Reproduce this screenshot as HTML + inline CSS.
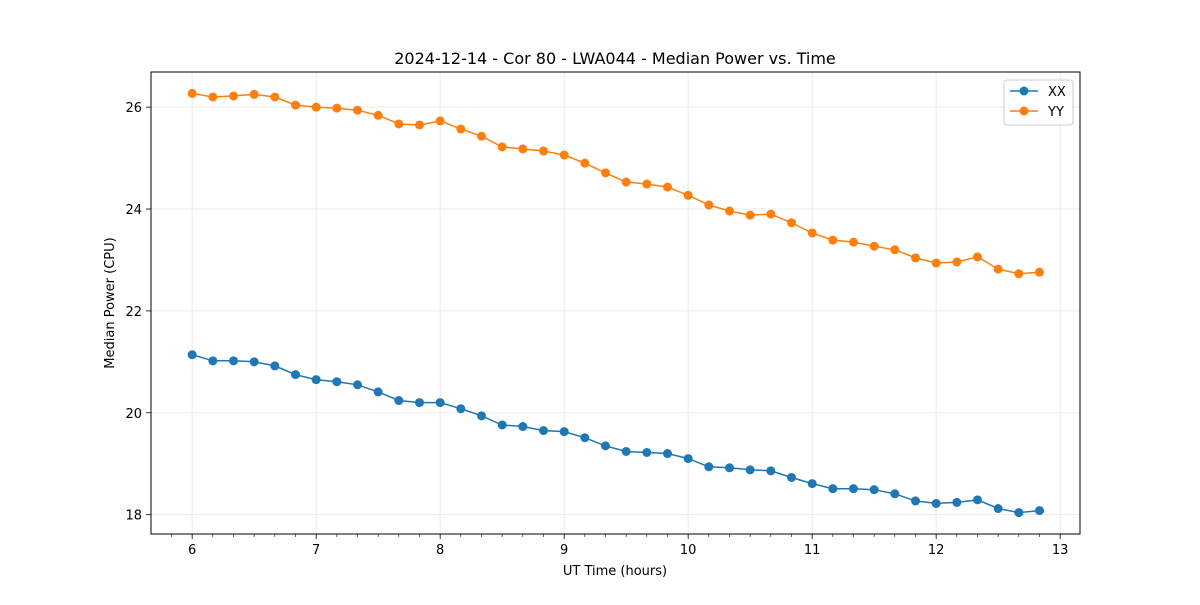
<!DOCTYPE html>
<html><head><meta charset="utf-8"><style>
body{margin:0;background:#fff;}
svg text{font-family:"DejaVu Sans","Liberation Sans",sans-serif;fill:#000;}
</style></head><body>
<svg id="chart" width="1200" height="600" xmlns="http://www.w3.org/2000/svg">
<rect width="1200" height="600" fill="#fff"/>
<text x="615" y="64" font-size="16" text-anchor="middle">2024-12-14 - Cor 80 - LWA044 - Median Power vs. Time</text>
<text x="615" y="575" font-size="13" text-anchor="middle">UT Time (hours)</text>
<text x="114" y="303" font-size="13" text-anchor="middle" transform="rotate(-90 114 303)">Median Power (CPU)</text>
<g id="grid"></g>
<g id="axes"></g>
<g id="series"></g>
<g>
<rect x="1004" y="80" width="69" height="45" rx="3" fill="#fff" fill-opacity="0.8" stroke="#ccc"/>
<g><line x1="1010" y1="91" x2="1038" y2="91" stroke="#1f77b4" stroke-width="1.5"/><circle cx="1024" cy="91" r="4.5" fill="#1f77b4"/><text x="1048" y="96" font-size="13">XX</text></g>
<g><line x1="1010" y1="111" x2="1038" y2="111" stroke="#ff7f0e" stroke-width="1.5"/><circle cx="1024" cy="111" r="4.5" fill="#ff7f0e"/><text x="1048" y="116" font-size="13">YY</text></g>
</g>
</svg>
<script>
const xxValues=[21.14,21.02,21.02,21.00,20.92,20.75,20.65,20.61,20.55,20.41,20.24,20.20,20.20,20.08,19.94,19.76,19.73,19.65,19.63,19.51,19.35,19.24,19.22,19.20,19.10,18.94,18.92,18.88,18.86,18.73,18.61,18.51,18.51,18.49,18.41,18.27,18.22,18.24,18.29,18.12,18.04,18.08];
const yyValues=[26.27,26.20,26.22,26.25,26.20,26.04,26.00,25.98,25.94,25.84,25.67,25.65,25.73,25.57,25.43,25.22,25.18,25.14,25.06,24.90,24.71,24.53,24.49,24.43,24.27,24.08,23.96,23.88,23.90,23.73,23.53,23.39,23.35,23.27,23.20,23.04,22.94,22.96,23.06,22.82,22.73,22.76];
const xTicks=[6,7,8,9,10,11,12,13];
const yTicks=[18,20,22,24,26];
const startHour=6, stepHour=1/6;
const L=151,R=1080,T=72,B=534;
const xMin=5.668,xMax=13.16,yMin=17.62,yMax=26.69;
const xs=v=>L+(v-xMin)/(xMax-xMin)*(R-L);
const ys=v=>B-(v-yMin)/(yMax-yMin)*(B-T);
const NS="http://www.w3.org/2000/svg";
function mk(tag,attrs,parent){const e=document.createElementNS(NS,tag);for(const k in attrs)e.setAttribute(k,attrs[k]);parent.appendChild(e);return e;}
const grid=document.getElementById('grid'),axes=document.getElementById('axes'),series=document.getElementById('series');
xTicks.forEach(t=>{const x=xs(t);
 const g=mk('line',{x1:x,x2:x,y1:T,y2:B,stroke:'#e6e6e6','stroke-width':0.8},grid);
 
 
 mk('line',{x1:x,x2:x,y1:B,y2:B+5,stroke:'#000','stroke-width':0.8},axes);
 const tx=mk('text',{x:x,y:B+20,'font-size':13,'text-anchor':'middle'},axes);tx.textContent=t;
 
 
});
for(let k=Math.ceil((xMin-startHour)/stepHour);startHour+k*stepHour<=xMax;k++){const v=startHour+k*stepHour;if(Math.abs(v-Math.round(v))<1e-6)continue;const x=xs(v);mk('line',{x1:x,x2:x,y1:B,y2:B+3,stroke:'#000','stroke-width':0.6},axes);}
yTicks.forEach(t=>{const y=ys(t);
 const g=mk('line',{x1:L,x2:R,y1:y,y2:y,stroke:'#e6e6e6','stroke-width':0.8},grid);
 
 
 mk('line',{x1:L-5,x2:L,y1:y,y2:y,stroke:'#000','stroke-width':0.8},axes);
 const tx=mk('text',{x:L-9,y:y+5,'font-size':13,'text-anchor':'end'},axes);tx.textContent=t;
 
 
});
mk('rect',{x:L,y:T,width:R-L,height:B-T,fill:'none',stroke:'#000','stroke-width':1},axes);
function draw(vals,color,name){
 const pts=vals.map((v,i)=>xs(startHour+i*stepHour).toFixed(1)+','+ys(v).toFixed(1)).join(' ');
 const pl=mk('polyline',{points:pts,fill:'none',stroke:color,'stroke-width':1.5},series);
 
 
 vals.forEach((v,i)=>{const c=mk('circle',{cx:xs(startHour+i*stepHour),cy:ys(v),r:4.5,fill:color},series);
  
  });
}
draw(xxValues,'#1f77b4','xx');
draw(yyValues,'#ff7f0e','yy');
</script>
</body></html>
